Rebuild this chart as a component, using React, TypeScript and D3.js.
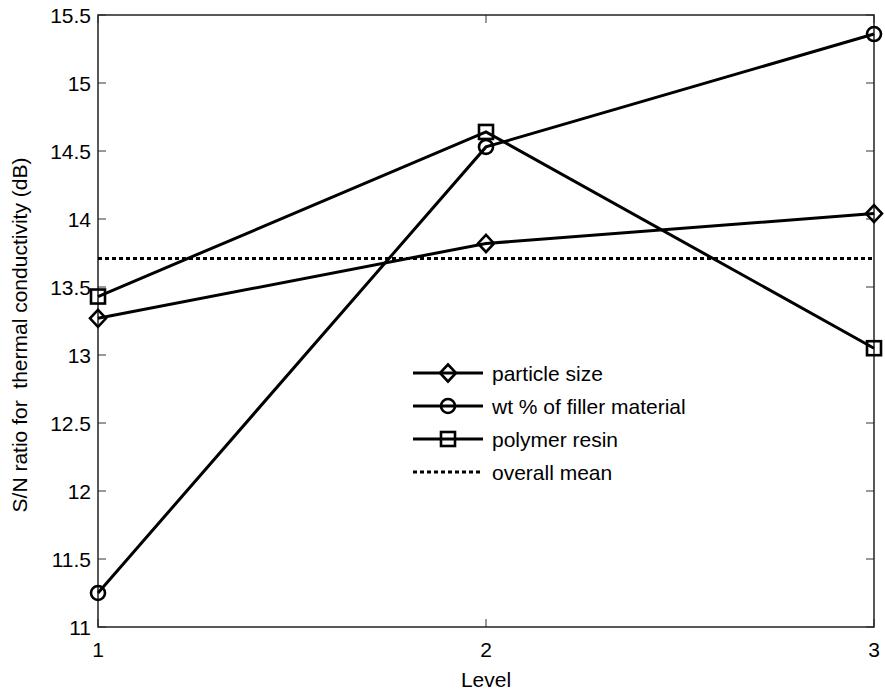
import React from "react";
import * as d3 from "d3";

const levels = [1, 2, 3];
const particleSize = [13.27, 13.82, 14.04];
const wtFiller = [11.25, 14.53, 15.36];
const polymerResin = [13.43, 14.64, 13.05];
const overallMean = 13.71;
const yTicks = [11, 11.5, 12, 12.5, 13, 13.5, 14, 14.5, 15, 15.5];
const xTicks = [1, 2, 3];
const seriesNames = ["particle size", "wt % of filler material", "polymer resin", "overall mean"];

const W = 885;
const H = 692;
const L = 98, R = 874, T = 15, B = 627;
const FONT = "'Liberation Sans', Arial, Helvetica, sans-serif";
const FS = 21;

function Marker({ kind, x, y }: { kind: string; x: number; y: number }) {
  const sw = 2.6;
  if (kind === "diamond") {
    const p = `M${x},${y - 8.5}L${x + 8},${y}L${x},${y + 8.5}L${x - 8},${y}Z`;
    return <path d={p} fill="none" stroke="#000" strokeWidth={sw} />;
  }
  if (kind === "circle") {
    return <circle cx={x} cy={y} r={7} fill="none" stroke="#000" strokeWidth={sw} />;
  }
  return <rect x={x - 7} y={y - 7} width={14} height={14} fill="none" stroke="#000" strokeWidth={sw} />;
}

export default function App() {
  const x = d3.scaleLinear().domain([1, 3]).range([L, R]);
  const y = d3.scaleLinear().domain([11, 15.5]).range([B, T]);
  const line = d3
    .line<number>()
    .x((_, i) => x(levels[i]))
    .y((d) => y(d));

  const series = [
    { data: particleSize, kind: "diamond" },
    { data: wtFiller, kind: "circle" },
    { data: polymerResin, kind: "square" },
  ];

  const legX0 = 413, legX1 = 483, legTextX = 492;
  const legY = [373, 406, 439, 472];

  return (
    <svg
      width={W}
      height={H}
      style={{ position: "absolute", left: 0, top: 0, background: "#fff" }}
      fontFamily={FONT}
    >
      <rect x={0} y={0} width={W} height={H} fill="#fff" />
      {yTicks.map((t) => (
        <g key={"yt" + t}>
          <line x1={L} x2={L + 8} y1={y(t)} y2={y(t)} stroke="#777" strokeWidth={1.5} />
          <line x1={R} x2={R - 8} y1={y(t)} y2={y(t)} stroke="#777" strokeWidth={1.5} />
          <text x={L - 7} y={y(t) + 8} fontSize={FS} textAnchor="end" fill="#000">
            {String(t)}
          </text>
        </g>
      ))}
      {xTicks.map((t) => (
        <g key={"xt" + t}>
          <line x1={x(t)} x2={x(t)} y1={B} y2={B - 8} stroke="#777" strokeWidth={1.5} />
          <line x1={x(t)} x2={x(t)} y1={T} y2={T + 8} stroke="#777" strokeWidth={1.5} />
          <text x={x(t)} y={B + 30} fontSize={FS} textAnchor="middle" fill="#000">
            {String(t)}
          </text>
        </g>
      ))}
      <rect x={L} y={T} width={R - L} height={B - T} fill="none" stroke="#222" strokeWidth={1.5} />

      <line
        x1={x(1)}
        x2={x(3)}
        y1={y(overallMean)}
        y2={y(overallMean)}
        stroke="#000"
        strokeWidth={3}
        strokeDasharray="4,3"
      />
      {series.map((s, si) => (
        <g key={"s" + si}>
          <path d={line(s.data) || ""} fill="none" stroke="#000" strokeWidth={3} />
          {s.data.map((v, i) => (
            <Marker key={i} kind={s.kind} x={x(levels[i])} y={y(v)} />
          ))}
        </g>
      ))}

      {seriesNames.map((n, i) => (
        <g key={"lg" + i}>
          {i < 3 ? (
            <>
              <line x1={legX0} x2={legX1} y1={legY[i]} y2={legY[i]} stroke="#000" strokeWidth={3} />
              <Marker kind={series[i].kind} x={(legX0 + legX1) / 2} y={legY[i]} />
            </>
          ) : (
            <line
              x1={legX0}
              x2={legX1}
              y1={legY[i]}
              y2={legY[i]}
              stroke="#000"
              strokeWidth={3}
              strokeDasharray="4,3"
            />
          )}
          <text x={legTextX} y={legY[i] + 8} fontSize={FS} fill="#000">
            {n}
          </text>
        </g>
      ))}

      <text x={(L + R) / 2} y={687} fontSize={FS} textAnchor="middle" fill="#000">
        Level
      </text>
      <text
        transform={`translate(27,${(T + B) / 2 + 14}) rotate(-90)`}
        fontSize={FS}
        textAnchor="middle"
        fill="#000"
        style={{ whiteSpace: "pre" }}
      >
        {"S/N ratio for  thermal conductivity (dB)"}
      </text>
    </svg>
  );
}
